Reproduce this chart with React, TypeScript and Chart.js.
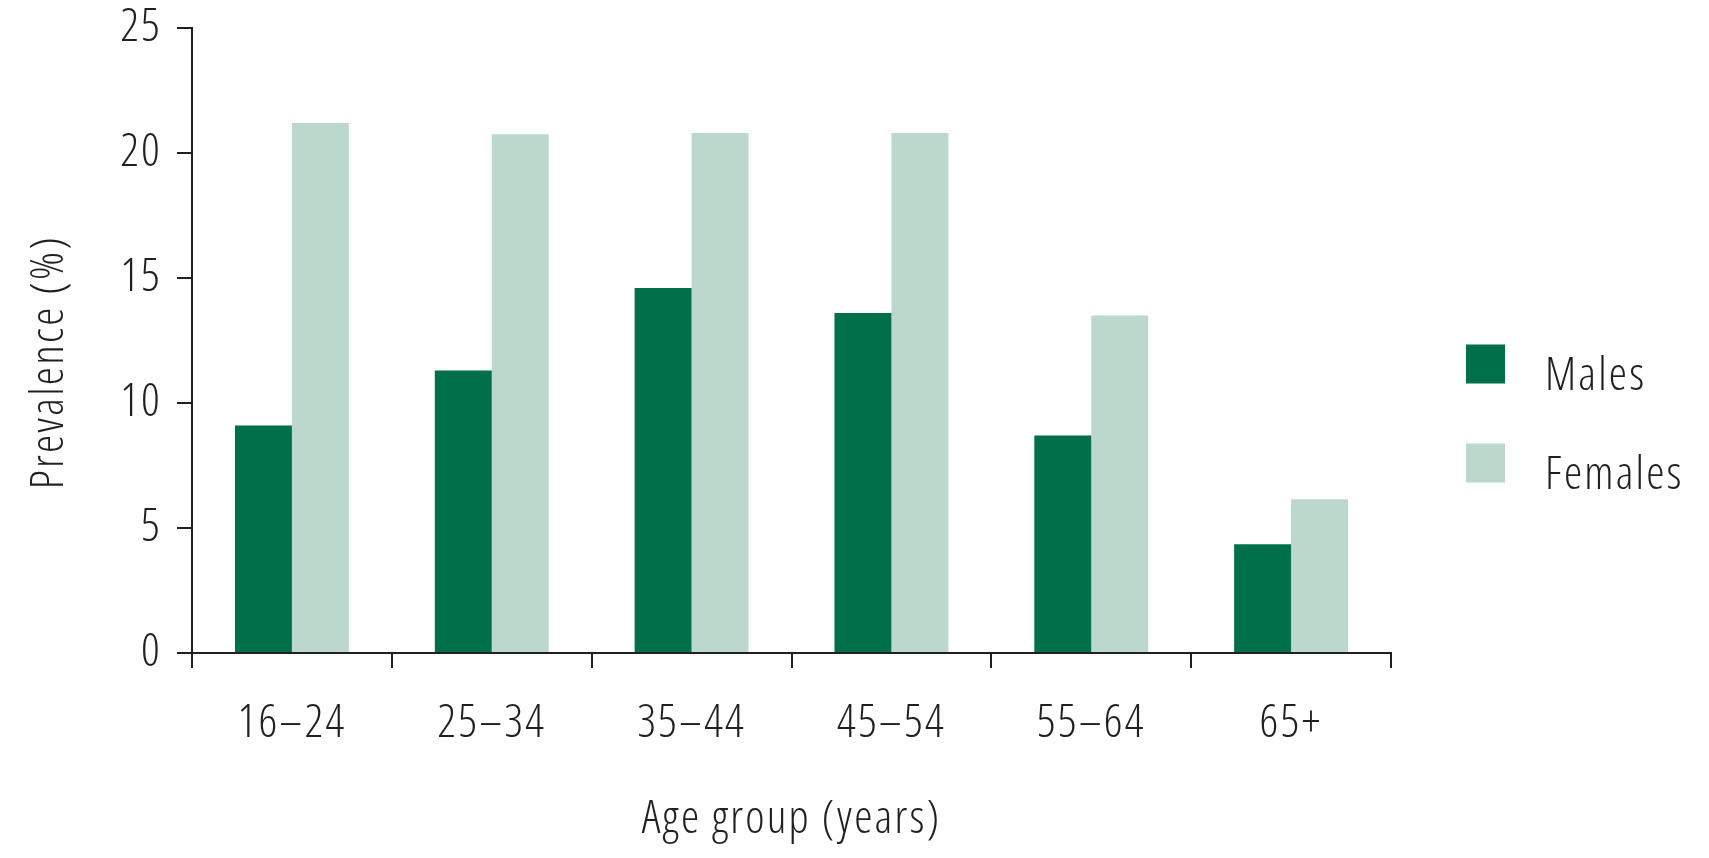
import React, { useEffect, useRef } from "react";
import { Chart, registerables } from "chart.js";

Chart.register(...registerables);

const categories = ["16–24", "25–34", "35–44", "45–54", "55–64", "65+"];
const males = [9.1, 11.3, 14.6, 13.6, 8.7, 4.35];
const females = [21.2, 20.75, 20.8, 20.8, 13.5, 6.15];
const yTicks = [0, 5, 10, 15, 20, 25];
const seriesNames = ["Males", "Females"];

const MALE_COLOR = "#00704a";
const FEMALE_COLOR = "#bcd8cc";
const INK = "#231f20";
const FONT = "'Open Sans', 'DejaVu Sans Condensed', sans-serif";
const WEIGHT = "300 condensed";
const SIZE = 46;
const SPACING = "2.2px";

const spacingPlugin = {
  id: "letterSpacing",
  beforeUpdate(chart: any) {
    chart.ctx.letterSpacing = SPACING;
  },
  beforeDraw(chart: any) {
    chart.ctx.letterSpacing = SPACING;
  },
};

const legendPlugin = {
  id: "sideLegend",
  afterDraw(chart: any) {
    const { ctx, chartArea } = chart;
    const mid = (chartArea.top + chartArea.bottom) / 2;
    const boxX = chartArea.right + 75;
    const size = 39;
    ctx.save();
    chart.data.datasets.forEach((ds: any, i: number) => {
      const top = mid + 4 + i * 99;
      ctx.fillStyle = ds.backgroundColor;
      ctx.fillRect(boxX, top, size, size);
      ctx.fillStyle = INK;
      ctx.font = `${WEIGHT} 46px ${FONT}`;
      ctx.letterSpacing = SPACING;
      ctx.textBaseline = "alphabetic";
      ctx.textAlign = "left";
      ctx.fillText(ds.label, boxX + 79, top + 45);
    });
    ctx.restore();
  },
};

export default function App() {
  const ref = useRef<HTMLCanvasElement>(null);

  useEffect(() => {
    if (!ref.current) return;
    const font = { family: FONT, size: SIZE, weight: WEIGHT as any };
    const chart = new Chart(ref.current, {
      type: "bar",
      data: {
        labels: categories,
        datasets: [
          { label: seriesNames[0], data: males, backgroundColor: MALE_COLOR, borderWidth: 0, categoryPercentage: 0.57, barPercentage: 1.0 },
          { label: seriesNames[1], data: females, backgroundColor: FEMALE_COLOR, borderWidth: 0, categoryPercentage: 0.57, barPercentage: 1.0 },
        ],
      },
      options: {
        responsive: false,
        animation: false,
        layout: { padding: { top: 28, right: 318, left: 0, bottom: 0 } },
        plugins: { legend: { display: false }, tooltip: { enabled: false } },
        scales: {
          x: {
            offset: true,
            grid: { offset: true, drawOnChartArea: false, drawTicks: true, tickLength: 15, color: INK, lineWidth: 2 },
            border: { display: true, color: INK, width: 2 },
            ticks: { color: INK, font, padding: 28, maxRotation: 0 },
            title: { display: true, text: "Age group (years)", color: INK, font, padding: { top: 0, bottom: 11 } },
            afterFit: (scale: any) => {
              scale.height = 858 - 653;
              scale.paddingLeft = 0;
              scale.paddingRight = 0;
            },
          },
          y: {
            min: 0,
            max: 25,
            afterBuildTicks: (scale: any) => {
              scale.ticks = yTicks.map((v) => ({ value: v }));
            },
            grid: { drawOnChartArea: false, drawTicks: true, tickLength: 15, color: INK, lineWidth: 2 },
            border: { display: true, color: INK, width: 2 },
            ticks: { color: INK, font, padding: 15 },
            title: { display: true, text: "Prevalence (%)    ", color: INK, font, padding: { top: 22, bottom: 0 } },
            afterFit: (scale: any) => {
              scale.width = 192;
              scale.paddingTop = 0;
              scale.paddingBottom = 0;
            },
          },
        },
      },
      plugins: [spacingPlugin, legendPlugin],
    });
    return () => chart.destroy();
  }, []);

  return (
    <div style={{ position: "absolute", left: 0, top: 0, width: 1709, height: 858, background: "#fff" }}>
      <canvas ref={ref} width={1709} height={858} style={{ width: 1709, height: 858, display: "block" }} />
    </div>
  );
}
